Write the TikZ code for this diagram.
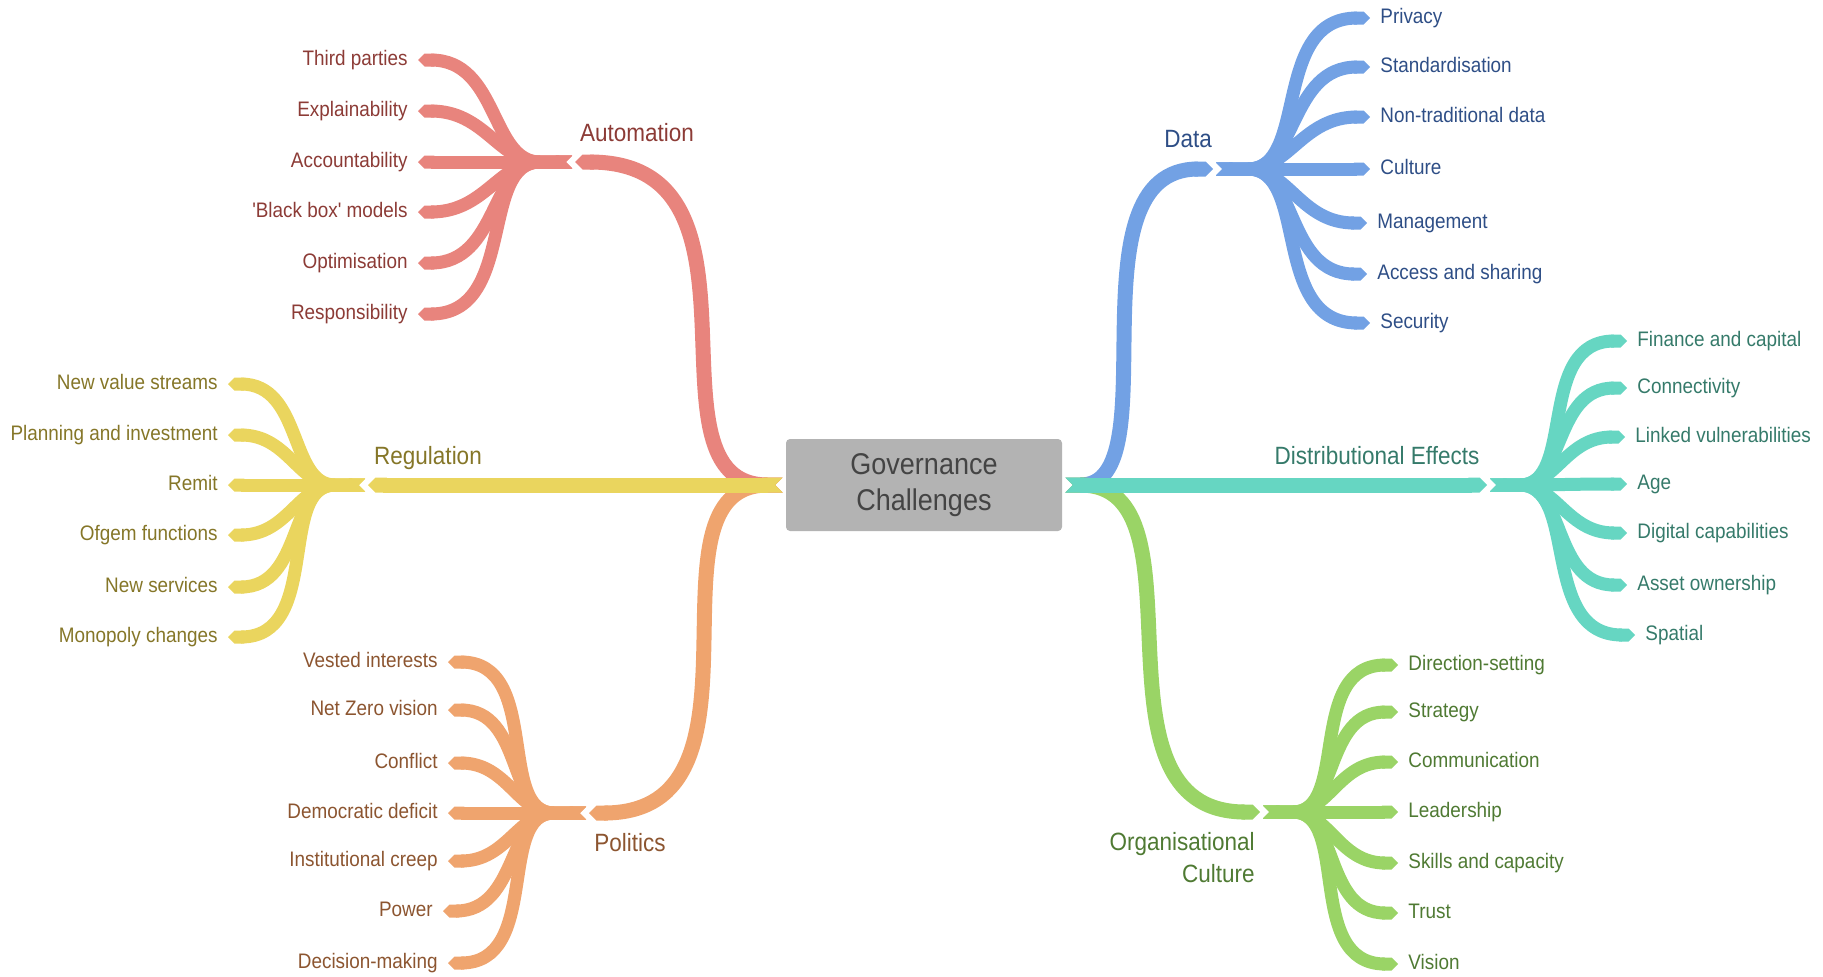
\documentclass[tikz,border=0pt]{standalone}
\usepackage{fontspec}
\newfontfamily\mapfont{Liberation Sans}[FakeStretch=0.9]
\usetikzlibrary{arrows.meta}

\definecolor{rootfill}{HTML}{B3B3B3}
\definecolor{roottext}{HTML}{444444}
\definecolor{autoline}{HTML}{E8847D}
\definecolor{autotext}{HTML}{8C3B36}
\definecolor{regline}{HTML}{EAD55E}
\definecolor{regtext}{HTML}{857628}
\definecolor{polline}{HTML}{EFA46E}
\definecolor{poltext}{HTML}{8C5530}
\definecolor{dataline}{HTML}{72A1E4}
\definecolor{datatext}{HTML}{2E4E86}
\definecolor{distline}{HTML}{66D6C2}
\definecolor{disttext}{HTML}{357A6A}
\definecolor{orgline}{HTML}{9AD466}
\definecolor{orgtext}{HTML}{4F7A33}

\begin{document}
\begin{tikzpicture}[x=0.5pt, y=-0.5pt,
	leaf/.style={font=\mapfont\fontsize{10.5}{12}\selectfont, text height=7.5pt, text depth=2pt, inner xsep=5pt, inner ysep=0pt},
	branch/.style={font=\mapfont\fontsize{12.5}{16}\selectfont, inner sep=0pt},
	band/.style={line width=6.5pt, {Triangle Cap[reversed]}-{Triangle Cap}},
	trunk/.style={line width=7.5pt, {Triangle Cap[reversed]}-{Triangle Cap}, shorten <=1.5pt, shorten >=1.5pt},
	fan/.style={out looseness=0.8, in looseness=1.3}]

\useasboundingbox (0, 0) rectangle (1823, 976);

\node[fill=rootfill, rounded corners=2pt, minimum width=138pt, minimum height=46pt, align=center,
	font=\mapfont\fontsize{15}{18}\selectfont, text=roottext] (root) at (924, 485) {Governance\\Challenges};

\coordinate (autohub) at (572, 162);
\coordinate (reghub) at (365, 485);
\coordinate (polhub) at (586, 813);
\coordinate (datahub) at (1216, 169);
\coordinate (disthub) at (1490, 485);
\coordinate (orghub) at (1263, 812);

% main branches
\draw[trunk, autoline] (root.west) .. controls +(-150, 0) and +(212, 0) .. (autohub);
\draw[trunk, polline] (root.west) .. controls +(-150, 0) and +(198, 0) .. (polhub);
\draw[trunk, regline] (root.west) -- (reghub);
\draw[trunk, dataline] (root.east) .. controls +(110, 0) and +(-150, 0) .. (datahub);
\draw[trunk, orgline] (root.east) .. controls +(150, 0) and +(-185, 0) .. (orghub);
\draw[trunk, distline] (root.east) -- (disthub);

\node[branch, text=autotext, anchor=base] (automation) at (637, 141) {Automation};
\node[branch, text=regtext, anchor=base] (regulation) at (428, 464) {Regulation};
\node[branch, text=poltext, anchor=base] (politics) at (630, 851) {Politics};
\node[branch, text=datatext, anchor=base] (data) at (1188, 147) {Data};
\node[branch, text=disttext, anchor=base] (distrib) at (1377, 464) {Distributional Effects};
\node[branch, text=orgtext, anchor=base east, align=right] (orgculture) at (1255, 882) {Organisational\\Culture};

% leaves
\foreach \x/\y/\n/\t in {
	418/60/a1/Third parties,
	418/111/a2/Explainability,
	418/162/a3/Accountability,
	418/212/a4/'Black box' models,
	418/263/a5/Optimisation,
	418/314/a6/Responsibility}{
\node[leaf, text=autotext, anchor=east] (\n) at (\x, \y) {\t};
\draw[band, autoline] (autohub) -- ++(-32, 0) to[fan, out=180, in=0] (\n.east);
}
\foreach \x/\y/\n/\t in {
	228/384/r1/New value streams,
	228/435/r2/Planning and investment,
	228/485/r3/Remit,
	228/535/r4/Ofgem functions,
	228/587/r5/New services,
	228/637/r6/Monopoly changes}{
\node[leaf, text=regtext, anchor=east] (\n) at (\x, \y) {\t};
\draw[band, regline] (reghub) -- ++(-30, 0) to[fan, out=180, in=0] (\n.east);
}
\foreach \x/\y/\n/\t in {
	448/662/p1/Vested interests,
	448/710/p2/Net Zero vision,
	448/763/p3/Conflict,
	448/813/p4/Democratic deficit,
	448/861/p5/Institutional creep,
	443/911/p6/Power,
	448/963/p7/Decision-making}{
\node[leaf, text=poltext, anchor=east] (\n) at (\x, \y) {\t};
\draw[band, polline] (polhub) -- ++(-32, 0) to[fan, out=180, in=0] (\n.east);
}
\foreach \x/\y/\n/\t in {
	1370/18/d1/Privacy,
	1370/67/d2/Standardisation,
	1370/117/d3/Non-traditional data,
	1370/169/d4/Culture,
	1367/223/d5/Management,
	1367/274/d6/Access and sharing,
	1370/323/d7/Security}{
\node[leaf, text=datatext, anchor=west] (\n) at (\x, \y) {\t};
\draw[band, dataline] (datahub) -- ++(32, 0) to[fan, out=0, in=180] (\n.west);
}
\foreach \x/\y/\n/\t in {
	1627/341/e1/Finance and capital,
	1627/388/e2/Connectivity,
	1625/437/e3/Linked vulnerabilities,
	1627/484/e4/Age,
	1627/533/e5/Digital capabilities,
	1627/585/e6/Asset ownership,
	1635/635/e7/Spatial}{
\node[leaf, text=disttext, anchor=west] (\n) at (\x, \y) {\t};
\draw[band, distline] (disthub) -- ++(30, 0) to[fan, out=0, in=180] (\n.west);
}
\foreach \x/\y/\n/\t in {
	1398/665/o1/Direction-setting,
	1398/712/o2/Strategy,
	1398/762/o3/Communication,
	1398/812/o4/Leadership,
	1398/863/o5/Skills and capacity,
	1398/913/o6/Trust,
	1398/964/o7/Vision}{
\node[leaf, text=orgtext, anchor=west] (\n) at (\x, \y) {\t};
\draw[band, orgline] (orghub) -- ++(30, 0) to[fan, out=0, in=180] (\n.west);
}

\end{tikzpicture}
\end{document}
